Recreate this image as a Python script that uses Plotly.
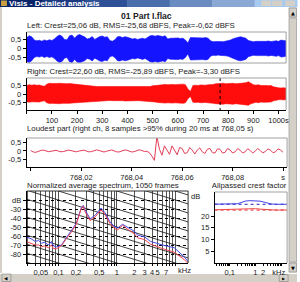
import plotly.graph_objects as go

W, H = 300, 282
FONT = "Liberation Sans"
TXT = "#222222"

# ---------------- text ----------------
WIN_TITLE = "Visis - Detailed analysis"
TITLE = "01 Part I.flac"
LEFT_INFO = "Left: Crest=25,06 dB, RMS=-25,68 dBFS, Peak=-0,62 dBFS"
RIGHT_INFO = "Right: Crest=22,60 dB, RMS=-25,89 dBFS, Peak=-3,30 dBFS"
LOUD_INFO = "Loudest part (right ch, 8 samples >95% during 20 ms at 768,05 s)"
SPEC_INFO = "Normalized average spectrum, 1050 frames"
CREST_INFO = "Allpassed crest factor"

# ---------------- waveform envelopes (one value every 10 s) ----------------
ENV_STEP = 10
LEFT_TOP = [0.58, 0.68, 0.62, 0.45, 0.40, 0.43, 0.38, 0.45, 0.40, 0.46,
            0.42, 0.50, 0.64, 0.72, 0.66, 0.48, 0.46, 0.68, 0.72, 0.55,
            0.70, 0.75, 0.68, 0.62, 0.50, 0.54, 0.64, 0.48, 0.56, 0.64,
            0.67, 0.60, 0.63, 0.42, 0.38, 0.46, 0.62, 0.64, 0.58, 0.63,
            0.60, 0.55, 0.50, 0.53, 0.48, 0.51, 0.55, 0.50, 0.60, 0.68,
            0.70, 0.66, 0.70, 0.68, 0.64, 0.68, 0.50, 0.54, 0.55, 0.52,
            0.56, 0.53, 0.55, 0.45, 0.28, 0.58, 0.57, 0.59, 0.56, 0.58,
            0.56, 0.58, 0.55, 0.40, 0.35, 0.36, 0.34, 0.36, 0.35, 0.37,
            0.40, 0.45, 0.52, 0.58, 0.60, 0.62, 0.58, 0.55, 0.42, 0.37,
            0.35, 0.37, 0.36, 0.38, 0.36, 0.37, 0.39, 0.36, 0.38, 0.40,
            0.37, 0.44, 0.42, 0.40]
LEFT_BOT = [-0.75, -0.80, -0.70, -0.52, -0.47, -0.50, -0.45, -0.52, -0.47, -0.53,
            -0.49, -0.58, -0.72, -0.80, -0.75, -0.56, -0.53, -0.76, -0.81, -0.63,
            -0.78, -0.82, -0.76, -0.70, -0.58, -0.62, -0.72, -0.56, -0.64, -0.72,
            -0.75, -0.68, -0.71, -0.49, -0.44, -0.53, -0.70, -0.72, -0.66, -0.71,
            -0.68, -0.63, -0.58, -0.61, -0.55, -0.59, -0.63, -0.58, -0.68, -0.76,
            -0.79, -0.74, -0.79, -0.77, -0.72, -0.76, -0.58, -0.62, -0.63, -0.60,
            -0.64, -0.61, -0.63, -0.52, -0.33, -0.66, -0.65, -0.68, -0.64, -0.66,
            -0.64, -0.66, -0.63, -0.46, -0.40, -0.42, -0.39, -0.41, -0.40, -0.43,
            -0.46, -0.52, -0.60, -0.66, -0.69, -0.71, -0.66, -0.63, -0.48, -0.43,
            -0.40, -0.42, -0.41, -0.43, -0.41, -0.42, -0.44, -0.41, -0.43, -0.46,
            -0.42, -0.50, -0.48, -0.46]
RIGHT_TOP = [0.50, 0.55, 0.52, 0.54, 0.51, 0.53, 0.48, 0.45, 0.58, 0.63,
             0.62, 0.64, 0.62, 0.63, 0.61, 0.62, 0.60, 0.61, 0.59, 0.58,
             0.57, 0.55, 0.52, 0.50, 0.48, 0.47, 0.46, 0.45, 0.44, 0.44,
             0.43, 0.42, 0.42, 0.41, 0.42, 0.41, 0.42, 0.43, 0.42, 0.44,
             0.43, 0.45, 0.44, 0.43, 0.42, 0.43, 0.44, 0.42, 0.43, 0.44,
             0.48, 0.50, 0.53, 0.55, 0.54, 0.56, 0.55, 0.57, 0.56, 0.55,
             0.57, 0.56, 0.58, 0.55, 0.30, 0.15, 0.50, 0.52, 0.50, 0.53,
             0.51, 0.52, 0.54, 0.53, 0.56, 0.60, 0.62, 0.61, 0.63, 0.60,
             0.62, 0.61, 0.63, 0.60, 0.62, 0.64, 0.62, 0.66, 0.72, 0.62,
             0.55, 0.52, 0.54, 0.50, 0.52, 0.50, 0.49, 0.50, 0.42, 0.38,
             0.36, 0.35, 0.37, 0.34]
RIGHT_BOT = [-0.45, -0.48, -0.46, -0.47, -0.45, -0.47, -0.43, -0.40, -0.52, -0.56,
             -0.55, -0.57, -0.56, -0.57, -0.55, -0.56, -0.54, -0.55, -0.53, -0.52,
             -0.51, -0.50, -0.47, -0.45, -0.44, -0.43, -0.42, -0.41, -0.41, -0.40,
             -0.40, -0.39, -0.39, -0.38, -0.39, -0.38, -0.39, -0.40, -0.39, -0.41,
             -0.40, -0.42, -0.41, -0.40, -0.39, -0.40, -0.41, -0.39, -0.40, -0.42,
             -0.45, -0.47, -0.50, -0.52, -0.51, -0.53, -0.52, -0.54, -0.53, -0.52,
             -0.54, -0.53, -0.55, -0.52, -0.28, -0.14, -0.48, -0.50, -0.48, -0.51,
             -0.49, -0.50, -0.52, -0.51, -0.54, -0.57, -0.59, -0.58, -0.60, -0.57,
             -0.59, -0.58, -0.60, -0.57, -0.59, -0.61, -0.59, -0.62, -0.66, -0.58,
             -0.52, -0.49, -0.51, -0.47, -0.49, -0.47, -0.46, -0.47, -0.40, -0.36,
             -0.34, -0.33, -0.35, -0.32]
LOUDEST_POS = 768.05
TIME_TICKS = [0, 100, 200, 300, 400, 500, 600, 700, 800, 900, 1000]
TIME_LABELS = ["", "100", "200", "300", "400", "500", "600", "700", "800", "900", "1000s"]

# ---------------- loudest part (one sample every 1 ms from 768.000 s) ----------------
LOUD_T0 = 768.0
LOUD_STEP = 0.001
LOUD_V = [0.02, -0.06, -0.08, -0.02, 0.03, 0.05, 0.00, -0.04, -0.02, 0.03,
          0.04, -0.01, -0.05, -0.03, 0.02, 0.05, 0.02, -0.03, -0.05, -0.01,
          0.04, 0.05, 0.00, -0.05, -0.04, 0.02, 0.06, 0.03, -0.03, -0.06,
          -0.02, 0.04, 0.06, 0.01, -0.05, -0.06, 0.00, 0.05, 0.05, -0.01,
          -0.06, -0.04, 0.03, 0.07, 0.03, -0.03, -0.02, -0.10, -0.30, -0.55,
          0.85, 0.10, -0.25, 0.30, 0.05, -0.20, 0.30, 0.00, -0.22, 0.20,
          0.15, -0.15, -0.10, 0.20, 0.05, -0.18, 0.05, 0.18, -0.05, -0.15,
          0.10, 0.15, -0.10, -0.12, 0.12, 0.10, -0.12, -0.08, 0.14, 0.06,
          -0.12, -0.05, 0.14, 0.04, -0.12, -0.04, 0.14, 0.02, -0.12, 0.00,
          0.14, 0.02, -0.12, -0.02, 0.12, 0.05, -0.10, -0.05, 0.12, 0.06,
          -0.08]
LOUD_TICKS = [768.00, 768.02, 768.04, 768.06, 768.08, 768.10]
LOUD_LABELS = ["", "768,02", "768,04", "768,06", "768,08", "s"]

# ---------------- spectrum ----------------
SPEC_F = [0.028, 0.034, 0.04, 0.046, 0.0515, 0.058, 0.0677, 0.0761, 0.082, 0.0926,
          0.1125, 0.137, 0.166, 0.202, 0.245, 0.266, 0.287, 0.349, 0.424, 0.536,
          0.626, 0.761, 0.925, 1.04, 1.26, 1.42, 2.02, 2.27, 2.98, 3.77,
          6.02, 9.6, 14.2, 17.3]
SPEC_L = [-61, -63, -66, -65, -68, -67, -70, -66, -71, -72,
          -70, -62, -55, -46, -29, -26, -31, -41, -37, -29,
          -34, -44, -50, -51, -47, -49, -55, -59, -61, -66,
          -70, -73, -83, -90]
SPEC_R = [-66, -68, -70, -70, -72, -71, -73, -70, -74, -74,
          -71, -63, -56, -47, -30, -27, -33, -43, -39, -31,
          -36, -46, -52, -53, -48, -51, -58, -62, -64, -69,
          -74, -78, -86, -92]
SPEC_YTICKS = [-80, -70, -60, -50, -40, -30, -20]
SPEC_YLABELS = ["-80", "-70", "-60", "-50", "-40", "-30", "dB"]
SPEC_XLABELS = {0.05: "0,05", 0.1: "0,1", 0.2: "0,2", 0.5: "0,5", 1: "1",
                2: "2", 3: "3", 4: "4", 5: "5", 7: "7"}

# ---------------- allpassed crest factor ----------------
CREST_F = [0.026, 0.05, 0.1, 0.15, 0.2, 0.3, 0.4, 0.6, 1.0, 1.5, 2.5, 4, 6, 10, 17]
CREST_L = [25.1, 25.1, 25.1, 25.1, 25.3, 25.9, 26.4, 26.6, 26.6, 26.4, 25.8, 25.2, 25.06, 25.06, 25.06]
CREST_R = [22.7, 22.8, 22.9, 23.0, 23.2, 23.3, 23.3, 23.3, 23.2, 23.0, 22.8, 22.6, 22.6, 22.6, 22.6]
CREST_L_FULL = 25.06
CREST_R_FULL = 22.60
CREST_YTICKS = [5, 10, 15, 20]
CREST_XLABELS = {0.1: "0,1", 1: "1", 2: "2", 8: "kHz"}

BLUE = "#1414ff"
RED = "#ff0c0c"
LOUD_COL = "#e23e57"
SPEC_BLUE = "#4848e8"
SPEC_RED = "#f04452"

TICK_SIZE = 7.5
TEXT_SIZE = 7.8


def X(p):
    return p / W


def Y(p):
    return 1 - p / H


fig = go.Figure()

t_env = [i * ENV_STEP for i in range(len(LEFT_TOP))]


def add_env(top, bot, color, ax):
    fig.add_trace(go.Scatter(x=t_env, y=top, mode="lines", line=dict(color=color, width=0.6),
                             xaxis="x" + ax, yaxis="y" + ax, hoverinfo="skip", showlegend=False))
    fig.add_trace(go.Scatter(x=t_env, y=bot, mode="lines", line=dict(color=color, width=0.6),
                             fill="tonexty", fillcolor=color,
                             xaxis="x" + ax, yaxis="y" + ax, hoverinfo="skip", showlegend=False))


add_env(LEFT_TOP, LEFT_BOT, BLUE, "")
add_env(RIGHT_TOP, RIGHT_BOT, RED, "2")
fig.add_trace(go.Scatter(x=[LOUDEST_POS, LOUDEST_POS], y=[-1, 1], mode="lines",
                         line=dict(color="black", width=1, dash="dot"),
                         xaxis="x2", yaxis="y2", hoverinfo="skip", showlegend=False))

loud_t = [LOUD_T0 + i * LOUD_STEP for i in range(len(LOUD_V))]
fig.add_trace(go.Scatter(x=loud_t, y=LOUD_V, mode="lines", line=dict(color=LOUD_COL, width=1),
                         xaxis="x3", yaxis="y3", hoverinfo="skip", showlegend=False))

# spectrum reference diagonals (guide lines)
dx, dy = [], []
for c in range(-130, 30, 10):
    dx += [0.02, 20, None]
    dy += [c + 34, c - 26, None]
fig.add_trace(go.Scatter(x=dx, y=dy, mode="lines", line=dict(color="#111111", width=0.8),
                         xaxis="x4", yaxis="y4", hoverinfo="skip", showlegend=False))
fig.add_trace(go.Scatter(x=SPEC_F, y=SPEC_L, mode="lines", line=dict(color=SPEC_BLUE, width=1),
                         xaxis="x4", yaxis="y4", hoverinfo="skip", showlegend=False))
fig.add_trace(go.Scatter(x=SPEC_F, y=SPEC_R, mode="lines", line=dict(color=SPEC_RED, width=1),
                         xaxis="x4", yaxis="y4", hoverinfo="skip", showlegend=False))

# crest
fig.add_trace(go.Scatter(x=[CREST_F[0], CREST_F[-1]], y=[CREST_L_FULL, CREST_L_FULL], mode="lines",
                         line=dict(color="#2020c0", width=1, dash="dot"),
                         xaxis="x5", yaxis="y5", hoverinfo="skip", showlegend=False))
fig.add_trace(go.Scatter(x=[CREST_F[0], CREST_F[-1]], y=[CREST_R_FULL, CREST_R_FULL], mode="lines",
                         line=dict(color="#e02020", width=1, dash="dot"),
                         xaxis="x5", yaxis="y5", hoverinfo="skip", showlegend=False))
fig.add_trace(go.Scatter(x=CREST_F, y=CREST_L, mode="lines", line=dict(color="#4040e8", width=1),
                         xaxis="x5", yaxis="y5", hoverinfo="skip", showlegend=False))
fig.add_trace(go.Scatter(x=CREST_F, y=CREST_R, mode="lines", line=dict(color="#f04848", width=1),
                         xaxis="x5", yaxis="y5", hoverinfo="skip", showlegend=False))
# crest title, clipped at the scrollbar via its own hidden axes
fig.add_trace(go.Scatter(x=[0], y=[0.5], mode="text", text=[CREST_INFO],
                         textposition="middle right", cliponaxis=True,
                         textfont=dict(size=TEXT_SIZE, color=TXT, family=FONT),
                         xaxis="x6", yaxis="y6", hoverinfo="skip", showlegend=False))

tickfont = dict(size=TICK_SIZE, color=TXT, family=FONT)
ybase = dict(showgrid=False, zeroline=False, showline=True, linecolor="black", linewidth=1,
             ticks="outside", ticklen=3, tickcolor="black", tickfont=tickfont, fixedrange=True,
             tickangle=0)
xbase = dict(ybase)

wave_yt = dict(tickmode="array", tickvals=[-0.5, 0, 0.5], ticktext=["-0,5", "0", "0,5"])

mults = [m * 10 ** e for e in (-2, -1, 0, 1) for m in range(1, 10)]
spec_ticks = [v for v in mults if 0.028 <= v <= 17]
spec_text = [SPEC_XLABELS.get(round(v, 4), "") for v in spec_ticks]
crest_text = [CREST_XLABELS.get(round(v, 4), "") for v in spec_ticks]

fig.update_layout(
    width=W, height=H, margin=dict(l=0, r=0, t=0, b=0), autosize=False,
    paper_bgcolor="white", plot_bgcolor="white", showlegend=False,
    font=dict(family=FONT, size=TEXT_SIZE, color=TXT),
    xaxis=dict(domain=[X(27), X(289)], range=[0, 1030], anchor="y", visible=False, fixedrange=True),
    yaxis=dict(ybase, domain=[Y(63), Y(32)], range=[-0.83, 0.89], anchor="x", **wave_yt),
    xaxis2=dict(xbase, domain=[X(27), X(289)], range=[0, 1030], anchor="y2",
                tickmode="array", tickvals=TIME_TICKS, ticktext=TIME_LABELS),
    yaxis2=dict(ybase, domain=[Y(110), Y(78)], range=[-0.94, 0.94], anchor="x2", **wave_yt),
    xaxis3=dict(xbase, domain=[X(27), X(290)], range=[767.9984, 768.1016], anchor="y3",
                tickmode="array", tickvals=LOUD_TICKS, ticktext=LOUD_LABELS),
    yaxis3=dict(ybase, domain=[Y(167), Y(138)], range=[-0.94, 0.76], anchor="x3", **wave_yt),
    xaxis4=dict(xbase, type="log", domain=[X(27), X(190)], range=[-1.542, 1.22], anchor="y4",
                tickmode="array", tickvals=spec_ticks, ticktext=spec_text, ticklen=2,
                showgrid=True, gridcolor="#555555", gridwidth=1),
    yaxis4=dict(ybase, domain=[Y(263), Y(191)], range=[-90, -10], anchor="x4",
                tickmode="array", tickvals=SPEC_YTICKS, ticktext=SPEC_YLABELS,
                showgrid=True, gridcolor="#000000", griddash="dot", gridwidth=1),
    xaxis5=dict(xbase, type="log", domain=[X(217), X(290)], range=[-1.577, 1.23], anchor="y5",
                tickmode="array", tickvals=spec_ticks, ticktext=crest_text, ticklen=2),
    yaxis5=dict(ybase, domain=[Y(263), Y(192)], range=[0, 30.3], anchor="x5",
                tickmode="array", tickvals=CREST_YTICKS),
    xaxis6=dict(domain=[X(214), X(290.5)], range=[0, 1], anchor="y6", visible=False, fixedrange=True),
    yaxis6=dict(domain=[Y(192), Y(180)], range=[0, 1], anchor="x6", visible=False, fixedrange=True),
)

shapes = []


def line(x0, y0, x1, y1, color="#a0a0a0", width=1, layer="above"):
    shapes.append(dict(type="line", xref="paper", yref="paper", x0=X(x0), y0=Y(y0), x1=X(x1), y1=Y(y1),
                       line=dict(color=color, width=width), layer=layer))


def rect(x0, y0, x1, y1, fill, lc=None, lw=0):
    shapes.append(dict(type="rect", xref="paper", yref="paper", x0=X(x0), y0=Y(y0), x1=X(x1), y1=Y(y1),
                       fillcolor=fill, line=dict(color=lc or fill, width=lw), layer="below"))


# window chrome: title bar
grad = ["#0a246a", "#1c3a82", "#2e5096", "#4a6eab", "#6a8cc0", "#8aa8d4", "#a6caf0"]
seg = W / len(grad)
for i, c in enumerate(grad):
    rect(i * seg, 0, (i + 1) * seg + 0.5, 7, c)
rect(264, 0.5, 274, 6, "#d4d0c8"); rect(275, 0.5, 285, 6, "#d4d0c8"); rect(288, 0.5, 298, 6, "#d4d0c8")
rect(1, 0.5, 7, 6, "#c8a040")
# left border
rect(0, 7, 2, 273, "#d4d0c8")
# vertical scrollbar
rect(291.5, 7, 300, 273, "#e6e3dc")
rect(292, 8, 299.5, 17, "#d4d0c8", "#808080", 0.6)
rect(292, 18, 299.5, 262, "#d4d0c8", "#909090", 0.6)
rect(292, 263, 299.5, 272, "#d4d0c8", "#808080", 0.6)
# horizontal scrollbar
rect(0, 273, 300, 282, "#d4d0c8")
line(0, 273.5, 300, 273.5, "#ffffff", layer="below")
rect(2, 274, 11, 281.5, "#d4d0c8", "#808080", 0.6)
rect(282, 274.5, 291, 281.5, "#d4d0c8", "#808080", 0.6)

# panel frames (top / right)
line(27, 32, 289, 32); line(289, 32, 289, 63); line(27, 63, 289, 63)
line(27, 78, 289, 78); line(289, 78, 289, 110)
line(27, 138, 290, 138); line(290, 138, 290, 167)
line(27, 191, 190, 191, "#333333"); line(190, 191, 190, 263, "#333333")
line(217, 192, 290, 192); line(290, 192, 290, 263)
fig.update_layout(shapes=shapes)

ann = []


def text(x, y, s, size=TEXT_SIZE, anchor="left", color=TXT, fam=FONT):
    ann.append(dict(x=X(x), y=Y(y), xref="paper", yref="paper", text=s, showarrow=False,
                    xanchor=anchor, yanchor="middle", font=dict(size=size, color=color, family=fam),
                    borderpad=0))


text(148, 16, "<b>" + TITLE + "</b>", size=8.6, anchor="center")
text(26, 25.5, LEFT_INFO)
text(26, 71, RIGHT_INFO)
text(26, 128, LOUD_INFO)
text(26, 185.5, SPEC_INFO)
text(197, 196, "dB", size=TICK_SIZE, anchor="center")
text(186, 270, "kHz", size=TICK_SIZE, anchor="center")
text(8, 3.5, "<b>" + WIN_TITLE + "</b>", size=8, color="white")
text(295.7, 12.5, "▲", size=5, anchor="center", color="black", fam="DejaVu Sans")
text(295.7, 267.5, "▼", size=5, anchor="center", color="black", fam="DejaVu Sans")
text(6.5, 278, "◀", size=4.5, anchor="center", color="black", fam="DejaVu Sans")
text(286.8, 278.5, "▶", size=4, anchor="center", color="black", fam="DejaVu Sans")
fig.update_layout(annotations=ann)

fig.write_html("out.html", include_plotlyjs=True, config=dict(displayModeBar=False))
